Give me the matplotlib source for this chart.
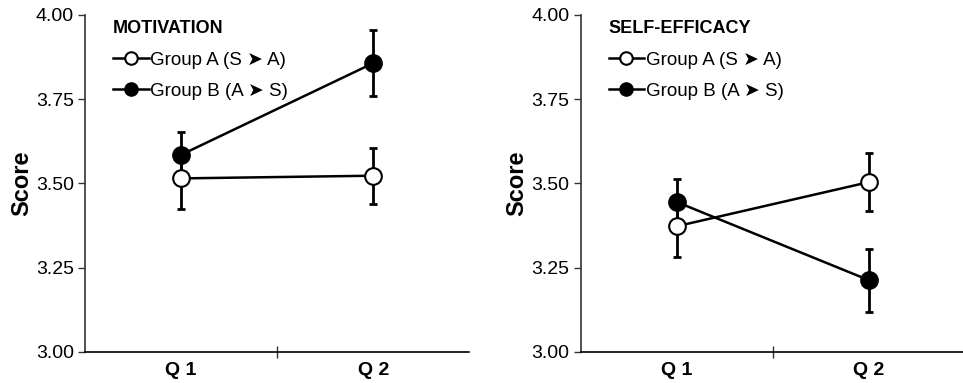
import matplotlib
matplotlib.use("Agg")
import matplotlib.pyplot as plt

plt.rcParams['font.family'] = ['Liberation Sans', 'DejaVu Sans']

quarters = ["Q 1", "Q 2"]
groups = ["Group A (S \u27A4 A)", "Group B (A \u27A4 S)"]

motivation_a = [3.515, 3.523]
motivation_a_err = [0.09, 0.083]
motivation_b = [3.585, 3.857]
motivation_b_err = [0.068, 0.097]

efficacy_a = [3.373, 3.504]
efficacy_a_err = [0.09, 0.087]
efficacy_b = [3.445, 3.213]
efficacy_b_err = [0.068, 0.093]

panels = [
    ("MOTIVATION", motivation_a, motivation_a_err, motivation_b, motivation_b_err),
    ("SELF-EFFICACY", efficacy_a, efficacy_a_err, efficacy_b, efficacy_b_err),
]

fig = plt.figure(figsize=(9.63, 3.83), dpi=100)
axes = [fig.add_axes([0.0883, 0.081, 0.399, 0.88]),
        fig.add_axes([0.603, 0.081, 0.399, 0.88])]

xpos = [0.5, 1.5]
for ax, (title, a, a_err, b, b_err) in zip(axes, panels):
    for vals, errs in ((a, a_err), (b, b_err)):
        ax.errorbar(xpos, vals, yerr=errs, fmt='none', ecolor='black',
                    elinewidth=2, capsize=3, capthick=2, zorder=2)
    ax.plot(xpos, a, '-o', color='black', lw=1.8, ms=12, mfc='white',
            mec='black', mew=1.5, zorder=3, label=groups[0])
    ax.plot(xpos, b, '-o', color='black', lw=1.8, ms=12, mfc='black',
            mec='black', mew=1.5, zorder=3, label=groups[1])

    ax.set_xlim(0, 2)
    ax.set_ylim(3.0, 4.0)
    ax.set_yticks([3.0, 3.25, 3.5, 3.75, 4.0])
    ax.set_yticklabels(["3.00", "3.25", "3.50", "3.75", "4.00"])
    ax.set_xticks(xpos)
    ax.set_xticklabels(quarters, fontweight='bold')
    ax.set_xticks([1.0], minor=True)
    ax.tick_params(axis='x', which='major', length=0, labelsize=14, pad=7)
    ax.tick_params(axis='x', which='minor', direction='inout', length=8,
                   width=1, color='#333333')
    ax.tick_params(axis='y', direction='out', length=5, width=1,
                   color='#333333', labelsize=14, pad=3)
    ax.set_ylabel("Score", fontweight='bold', fontsize=17, labelpad=2)

    for side in ('top', 'right'):
        ax.spines[side].set_visible(False)
    for side in ('left', 'bottom'):
        ax.spines[side].set_linewidth(1.2)
        ax.spines[side].set_color('#333333')
    ax.spines['bottom'].set_color('black')

    leg = ax.legend(title=title, loc='upper left', frameon=False,
                    fontsize=13.5, handlelength=1.9, handletextpad=0.1,
                    labelspacing=0.75, markerscale=0.75, alignment='left',
                    borderaxespad=0.0, bbox_to_anchor=(0.063, 0.995),
                    borderpad=0.2,
                    title_fontproperties={'weight': 'bold', 'size': 13})

fig.savefig("out.png", dpi=100)
